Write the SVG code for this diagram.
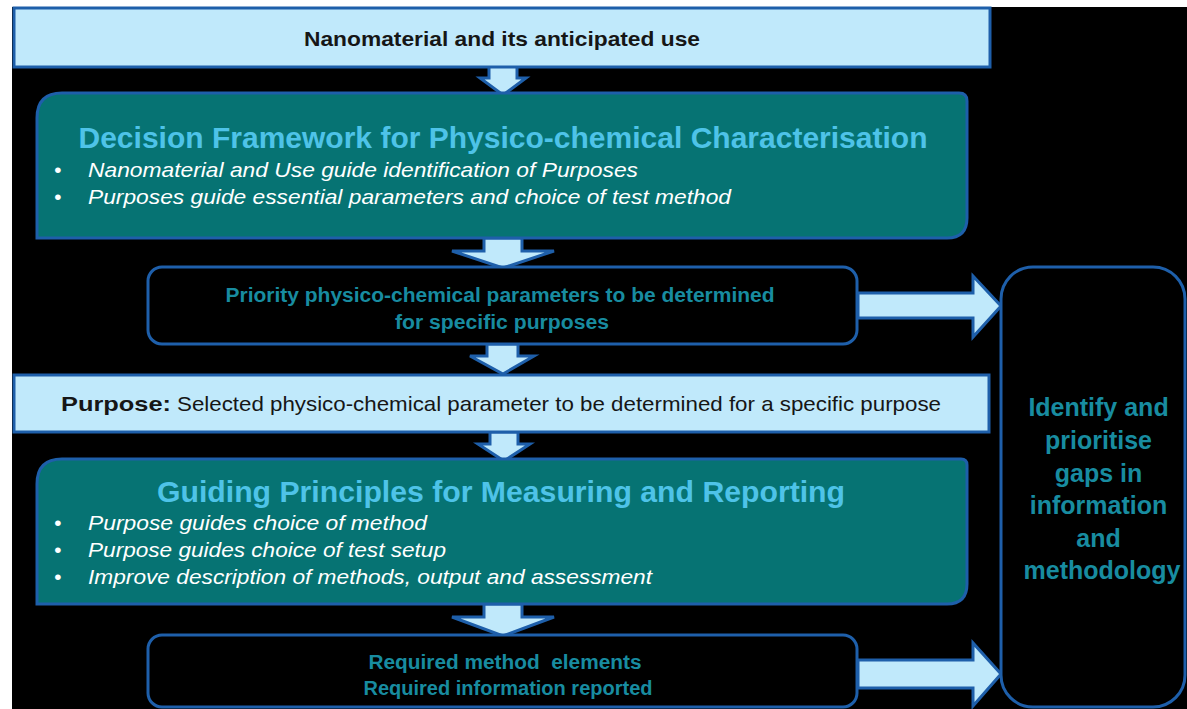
<svg xmlns="http://www.w3.org/2000/svg" width="1187" height="709" viewBox="0 0 1187 709">
<defs>
<style>
.bar{fill:#c0e9fb;stroke:#1e5faa;stroke-width:3}
.teal{fill:#067373;stroke:#1e5faa;stroke-width:3}
.dark{fill:#000;stroke:#1e5faa;stroke-width:3}
.arr{fill:#c0e9fb;stroke:#1e5faa;stroke-width:3;stroke-linejoin:miter}
text{font-family:"Liberation Sans",Arial,sans-serif}
.dk{fill:#161616;font-size:21px}
.b{font-weight:bold}
.ttl{fill:#4ec3e8;font-size:30px;font-weight:bold}
.bul{fill:#ffffff;font-size:21px;font-style:italic}
.tl{fill:#188ca0;font-size:20px;font-weight:bold}
.side{fill:#188ca0;font-size:25px;font-weight:bold}
</style>
</defs>
<rect x="0" y="0" width="1187" height="709" fill="#ffffff"/>
<rect x="12" y="7" width="1175" height="702" fill="#000000"/>

<g id="connectors">
<polygon class="arr" points="489,66 517,66 517,78 526,78 503,95 480,78 489,78"/>
<polygon class="arr" points="484,238 522,238 522,251 554,251 503,268 452,251 484,251"/>
<polygon class="arr" points="487,344 518,344 518,356 534,356 503,374 470,356 487,356"/>
<polygon class="arr" points="490,432 518,432 518,444 530,444 504,461 478,444 490,444"/>
<polygon class="arr" points="484,604 522,604 522,617 554,617 503,636 452,617 484,617"/>
<polygon class="arr" points="858,293 973,293 973,276 1001,306 973,337 973,318 858,318"/>
<polygon class="arr" points="858,660 973,660 973,643 1001,674 973,706 973,688 858,688"/>
</g>

<g id="node-top">
<rect class="bar" x="14" y="8" width="976" height="59"/>
<text class="dk b" x="502" y="46" text-anchor="middle" textLength="396" lengthAdjust="spacingAndGlyphs">Nanomaterial and its anticipated use</text>
</g>

<g id="node-decision">
<path class="teal" d="M37,238 L37,118 Q37,93 62,93 L959,93 Q967,93 967,101 L967,218 Q967,238 947,238 Z"/>
<text class="ttl" x="503" y="148" text-anchor="middle" textLength="849" lengthAdjust="spacingAndGlyphs">Decision Framework for Physico-chemical Characterisation</text>
<text class="bul" x="54" y="177">•</text>
<text class="bul" x="88" y="177" textLength="550" lengthAdjust="spacingAndGlyphs">Nanomaterial and Use guide identification of Purposes</text>
<text class="bul" x="54" y="204">•</text>
<text class="bul" x="88" y="204" textLength="643" lengthAdjust="spacingAndGlyphs">Purposes guide essential parameters and choice of test method</text>
</g>

<g id="node-priority">
<rect class="dark" x="148" y="267" width="709" height="77" rx="14"/>
<text class="tl" x="500" y="302" text-anchor="middle" textLength="549" lengthAdjust="spacingAndGlyphs">Priority physico-chemical parameters to be determined</text>
<text class="tl" x="502" y="329" text-anchor="middle" textLength="214" lengthAdjust="spacingAndGlyphs">for specific purposes</text>
</g>

<g id="node-purpose">
<rect class="bar" x="14" y="375" width="975" height="57"/>
<text class="dk b" x="61" y="411" textLength="110" lengthAdjust="spacingAndGlyphs">Purpose:</text>
<text class="dk" x="177" y="411" textLength="764" lengthAdjust="spacingAndGlyphs">Selected physico-chemical parameter to be determined for a specific purpose</text>
</g>

<g id="node-guiding">
<path class="teal" d="M37,604 L37,484 Q37,459 62,459 L961,459 Q967,459 967,465 L967,584 Q967,604 947,604 Z"/>
<text class="ttl" x="501" y="502" text-anchor="middle" textLength="688" lengthAdjust="spacingAndGlyphs">Guiding Principles for Measuring and Reporting</text>
<text class="bul" x="54" y="530">•</text>
<text class="bul" x="88" y="530" textLength="339" lengthAdjust="spacingAndGlyphs">Purpose guides choice of method</text>
<text class="bul" x="54" y="557">•</text>
<text class="bul" x="88" y="557" textLength="358" lengthAdjust="spacingAndGlyphs">Purpose guides choice of test setup</text>
<text class="bul" x="54" y="584">•</text>
<text class="bul" x="88" y="584" textLength="564" lengthAdjust="spacingAndGlyphs">Improve description of methods, output and assessment</text>
</g>

<g id="node-required">
<rect class="dark" x="148" y="635" width="709" height="72" rx="14"/>
<text class="tl" x="505" y="669" text-anchor="middle" textLength="273" lengthAdjust="spacingAndGlyphs" xml:space="preserve">Required method  elements</text>
<text class="tl" x="508" y="695" text-anchor="middle" textLength="289" lengthAdjust="spacingAndGlyphs">Required information reported</text>
</g>

<g id="node-gaps">
<rect class="dark" x="1001" y="267" width="184" height="440" rx="32"/>
<text class="side" text-anchor="middle">
<tspan x="1102" y="416">Identify and</tspan>
<tspan x="1102" y="449">prioritise</tspan>
<tspan x="1102" y="482">gaps in</tspan>
<tspan x="1102" y="514">information</tspan>
<tspan x="1102" y="547">and</tspan>
<tspan x="1102" y="579">methodology</tspan>
</text>
</g>
</svg>
